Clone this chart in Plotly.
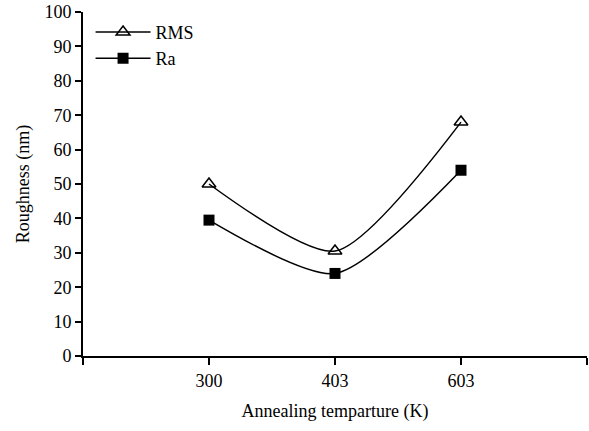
import plotly.graph_objects as go

categories = ["300", "403", "603"]
rms = [50, 30.5, 68]
ra = [39.5, 24, 54]
y_ticks = list(range(0, 101, 10))

xpos = list(range(len(categories)))
font = "Liberation Serif, Times New Roman, serif"

fig = go.Figure()
fig.add_trace(go.Scatter(x=xpos, y=rms, name="RMS", mode="lines+markers", legendgroup="a",
                         line=dict(color="black", width=1.5, shape="spline", smoothing=0.7),
                         marker=dict(symbol="triangle-up-open", size=12, color="black",
                                     line=dict(width=1.5, color="black"))))
fig.add_trace(go.Scatter(x=xpos, y=ra, name="Ra", mode="lines+markers", legendgroup="b",
                         line=dict(color="black", width=1.5, shape="spline", smoothing=0.7),
                         marker=dict(symbol="square", size=11, color="black")))

fig.update_layout(
    width=589, height=431,
    margin=dict(l=83, r=2, t=12, b=75, autoexpand=False),
    plot_bgcolor="white", paper_bgcolor="white",
    font=dict(family=font, size=18, color="black"),
    showlegend=True,
    legend=dict(x=0.015, y=0.995, xanchor="left", yanchor="top", bgcolor="rgba(0,0,0,0)",
                font=dict(size=18), tracegroupgap=0, itemwidth=55),
    xaxis=dict(range=[-1, 3], tickvals=[-1, 0, 1, 2, 3], ticktext=[""] + categories + [""],
               showline=True, linecolor="black", linewidth=2, ticks="outside", ticklen=7,
               tickwidth=2, tickcolor="black", showgrid=False, zeroline=False, automargin=False,
               title=dict(text="Annealing temparture (K)", standoff=15, font=dict(size=18))),
    yaxis=dict(range=[0, 100], tickvals=y_ticks, showline=True, linecolor="black", linewidth=2,
               ticks="outside", ticklen=6, tickwidth=2, tickcolor="black", showgrid=False,
               zeroline=False, automargin=False, ticklabeloverflow="allow",
               title=dict(text="Roughness (nm)", standoff=10, font=dict(size=18))),
)
fig.write_html("out.html", post_script="document.body.style.margin='0';",
               config={"displayModeBar": False})
